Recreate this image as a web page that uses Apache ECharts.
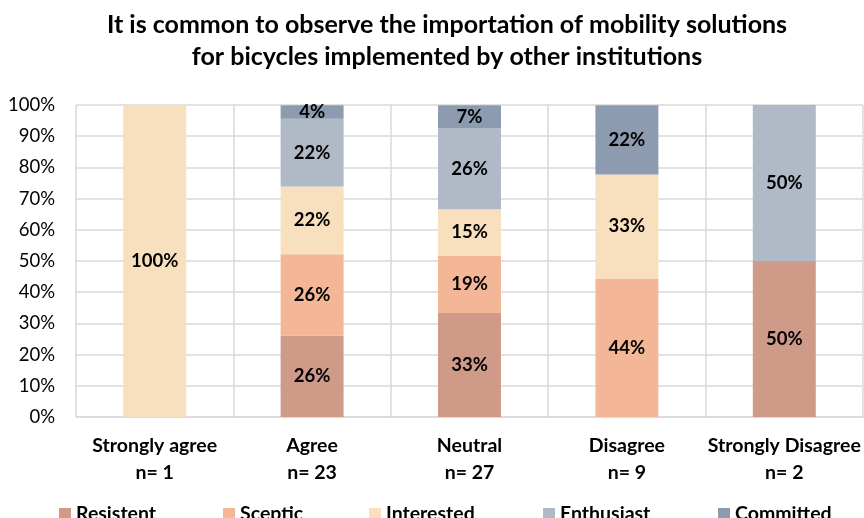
<!DOCTYPE html>
<html>
<head>
<meta charset="utf-8">
<script src="https://cdn.jsdelivr.net/npm/echarts@6/dist/echarts.min.js"></script>
<style>
  html, body { margin: 0; padding: 0; background: #fff; }
  #chart { width: 864px; height: 518px; }
</style>
</head>
<body>
<div id="chart"></div>
<script>
// categories (answer + respondents)
var categories = ['Strongly agree\nn= 1', 'Agree\nn= 23', 'Neutral\nn= 27', 'Disagree\nn= 9', 'Strongly Disagree\nn= 2'];
var seriesNames = ['Resistent', 'Sceptic', 'Interested', 'Enthusiast', 'Committed'];

// share of each profile, in %
var resistent  = [0, 26.1, 33.3, 0, 50];
var sceptic    = [0, 26.1, 18.5, 44.4, 0];
var interested = [100, 21.7, 14.8, 33.3, 0];
var enthusiast = [0, 21.7, 25.9, 0, 50];
var committed  = [0, 4.3, 7.4, 22.2, 0];

var colors = ['#cf9a88', '#f3b797', '#f8dfbd', '#b0b9c6', '#8d9bb1'];
var legendLeft = [59, 223, 369, 543, 718];

var chart = echarts.init(document.getElementById('chart'));
var font = 'Lato, "Open Sans", sans-serif';

var allData = [resistent, sceptic, interested, enthusiast, committed];
var series = [];
var legends = [];
for (var i = 0; i < seriesNames.length; i++) {
	series.push({
		name: seriesNames[i],
		type: 'bar',
		stack: 'total',
		barWidth: '40%',
		itemStyle: { color: colors[i] },
		label: {
			show: true,
			position: 'inside',
			color: '#000',
			fontWeight: 'bold',
			fontSize: 18.5,
			fontFamily: font,
			formatter: function (p) {
				return p.value > 0 ? Math.round(p.value) + '%' : '';
			}
		},
		data: allData[i]
	});
	legends.push({
		data: [seriesNames[i]],
		left: legendLeft[i],
		top: 504,
		itemWidth: 12,
		itemHeight: 12,
		itemGap: 5,
		icon: 'rect',
		padding: 0,
		selectedMode: false,
		textStyle: { color: '#000', fontWeight: 'bold', fontSize: 19.5, fontFamily: font }
	});
}

var option = {
	animation: false,
	title: {
		text: 'It is common to observe the importation of mobility solutions\nfor bicycles implemented by other institutions',
		left: 442,
		textAlign: 'center',
		top: 4,
		textStyle: { color: '#000', fontWeight: 'bold', fontSize: 25, lineHeight: 32, fontFamily: font }
	},
	legend: legends,
	grid: { left: 76, right: 1, top: 105, bottom: 101 },
	xAxis: {
		type: 'category',
		data: categories,
		axisLine: { show: true, lineStyle: { color: '#d9d9d9', width: 1.5 } },
		axisTick: { show: false },
		splitLine: { show: true, lineStyle: { color: '#d9d9d9', width: 1.5 } },
		axisLabel: {
			color: '#000',
			fontWeight: 'bold',
			fontSize: 19.5,
			lineHeight: 27,
			margin: 15,
			fontFamily: font,
			interval: 0
		}
	},
	yAxis: {
		type: 'value',
		min: 0,
		max: 100,
		interval: 10,
		axisLine: { show: false },
		axisTick: { show: false },
		splitLine: { lineStyle: { color: '#d9d9d9', width: 1.5 } },
		axisLabel: {
			formatter: '{value}%',
			color: '#000',
			fontSize: 18.5,
			margin: 21,
			fontFamily: font
		}
	},
	series: series
};
chart.setOption(option);
</script>
</body>
</html>
